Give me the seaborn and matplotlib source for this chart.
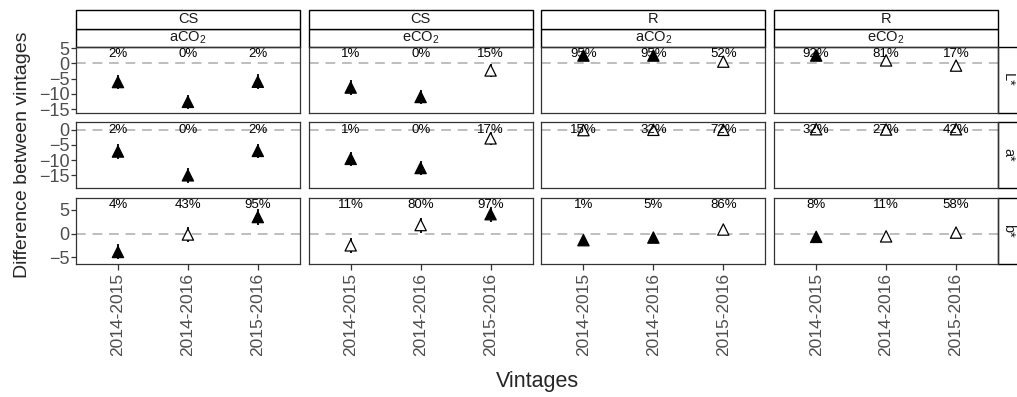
import pandas as pd
import matplotlib
matplotlib.use('Agg')
import matplotlib.pyplot as plt
from matplotlib.patches import Rectangle
import seaborn as sns

vintages = ['2014-2015', '2014-2016', '2015-2016']
cultivars = ['CS', 'CS', 'R', 'R']
co2 = ['aCO2', 'eCO2', 'aCO2', 'eCO2']
attributes = ['L*', 'a*', 'b*']

# difference between vintages, one list per panel (CS aCO2, CS eCO2, R aCO2, R eCO2)
L_diff = [[-6.1, -12.6, -6.0], [-7.9, -11.0, -2.3], [2.6, 2.6, 0.6], [2.6, 1.0, -0.7]]
L_err = [[2.4, 2.4, 2.4], [2.4, 2.4, 2.2], [1.0, 1.0, 1.0], [1.0, 1.0, 1.0]]
L_pct = [[2, 0, 2], [1, 0, 15], [95, 95, 52], [92, 81, 17]]

a_diff = [[-7.2, -15.0, -7.0], [-9.6, -12.6, -2.9], [-0.2, -0.1, -0.1], [0.1, 0.0, 0.1]]
a_err = [[2.4, 2.4, 2.4], [2.4, 2.4, 2.2], [1.0, 1.0, 1.0], [1.0, 1.0, 1.0]]
a_pct = [[2, 0, 2], [1, 0, 17], [15, 32, 72], [32, 27, 42]]

b_diff = [[-3.9, -0.2, 3.5], [-2.5, 1.8, 4.1], [-1.4, -0.85, 0.85], [-0.7, -0.6, 0.2]]
b_err = [[1.6, 1.6, 1.6], [1.6, 1.6, 1.6], [0.7, 0.7, 0.7], [0.7, 0.7, 0.7]]
b_pct = [[4, 43, 95], [11, 80, 97], [1, 5, 86], [8, 11, 58]]

diffs = {'L*': L_diff, 'a*': a_diff, 'b*': b_diff}
errs = {'L*': L_err, 'a*': a_err, 'b*': b_err}
pcts = {'L*': L_pct, 'a*': a_pct, 'b*': b_pct}

rows = []
for attr in attributes:
    for j in range(4):
        for k, v in enumerate(vintages):
            p = pcts[attr][j][k]
            rows.append({'attr': attr, 'panel': cultivars[j] + ' ' + co2[j], 'vintage': v, 'pos': k,
                         'diff': diffs[attr][j][k], 'err': errs[attr][j][k], 'pct': p,
                         'sig': 'filled' if (p < 10 or p > 90) else 'open'})
df = pd.DataFrame(rows)
panels = [c + ' ' + e for c, e in zip(cultivars, co2)]

sns.set_theme(style='white')
plt.rcParams['font.family'] = ['Liberation Sans', 'DejaVu Sans']
plt.rcParams['mathtext.default'] = 'regular'

label_y = {'L*': 3.2, 'a*': 0.0, 'b*': 6.1}
ylims = {'L*': (-16.2, 5.4), 'a*': (-19.2, 2.35), 'b*': (-6.35, 7.6)}
yticks = {'L*': [-15, -10, -5, 0, 5], 'a*': [-15, -10, -5, 0], 'b*': [-5, 0, 5]}


def draw(data, **kws):
    ax = plt.gca()
    ax.axhline(0, color='#BEBEBE', ls=(0, (5, 3.5)), lw=1.4, zorder=0)
    ax.errorbar(data['pos'], data['diff'], yerr=data['err'], fmt='none',
                ecolor='black', elinewidth=1.3, capsize=0, zorder=2)
    sns.scatterplot(data=data, x='pos', y='diff', hue='sig', hue_order=['filled', 'open'],
                    palette={'filled': 'black', 'open': 'white'}, marker='^', s=66,
                    edgecolor='black', linewidth=0.9, legend=False, ax=ax, zorder=3)
    attr = data['attr'].iloc[0]
    for _, r in data.iterrows():
        ax.text(r['pos'], label_y[attr], f"{r['pct']}%", ha='center', va='center',
                fontsize=9.5, color='black', zorder=4)


g = sns.FacetGrid(df, row='attr', col='panel', row_order=attributes, col_order=panels,
                  sharex=True, sharey='row', despine=False, height=1.3, aspect=2.5)
g.map_dataframe(draw)
g.set_titles('')
g.set_axis_labels('', '')

fig = g.figure
fig.set_size_inches(10.17, 3.97)
fig.subplots_adjust(left=76 / 1017, right=998 / 1017, bottom=1 - 263.5 / 397, top=1 - 47 / 397,
                    wspace=0.04, hspace=0.145)

for i, attr in enumerate(attributes):
    for j in range(4):
        ax = g.axes[i, j]
        ax.set_xlim(-0.6, 2.6)
        ax.set_ylim(*ylims[attr])
        ax.set_yticks(yticks[attr])
        ax.set_xticks([0, 1, 2])
        ax.tick_params(axis='both', which='both', length=4.5, width=0.9, color='#333333',
                       labelcolor='#4D4D4D', labelsize=12.5, pad=2, left=(j == 0), bottom=(i == 2))
        ax.tick_params(axis='y', labelsize=13, pad=1, length=3.5)
        ax.set_xlabel('')
        ax.set_ylabel('')
        for s in ax.spines.values():
            s.set_color('#333333')
            s.set_linewidth(0.9)
        if i == 2:
            ax.set_xticklabels(vintages, rotation=90)
    # right strip with attribute name
    ax = g.axes[i, 3]
    ax.add_patch(Rectangle((1, 0), 0.09, 1, transform=ax.transAxes, clip_on=False,
                           fc='white', ec='black', lw=1.0))
    ax.text(1.045, 0.5, attr, transform=ax.transAxes, rotation=-90, ha='center', va='center',
            fontsize=10.5, color='#1A1A1A')

# top strips: cultivar and CO2
for j in range(4):
    ax = g.axes[0, j]
    h = 0.28
    ax.add_patch(Rectangle((0, 1), 1, h, transform=ax.transAxes, clip_on=False,
                           fc='white', ec='black', lw=1.0))
    ax.add_patch(Rectangle((0, 1 + h), 1, h, transform=ax.transAxes, clip_on=False,
                           fc='white', ec='black', lw=1.0))
    gas = co2[j][0] + 'CO$_2$'
    ax.text(0.5, 1 + h / 2, gas, transform=ax.transAxes, ha='center', va='center',
            fontsize=10.5, color='#1A1A1A')
    ax.text(0.5, 1 + 1.5 * h, cultivars[j], transform=ax.transAxes, ha='center', va='center',
            fontsize=10.5, color='#1A1A1A')

fig.text(23 / 1017, 1 - 155 / 397, 'Difference between vintages', rotation=90,
         ha='center', va='center', fontsize=14)
fig.text(537 / 1017, 1 - 381 / 397, 'Vintages', ha='center', va='center', fontsize=15.5)

fig.savefig('out.png', dpi=100)
